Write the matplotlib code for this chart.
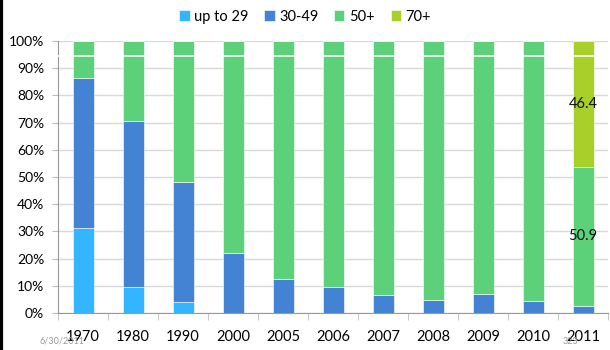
import matplotlib
matplotlib.use("Agg")
import matplotlib.pyplot as plt
import numpy as np

years = ["1970", "1980", "1990", "2000", "2005", "2006", "2007", "2008", "2009", "2010", "2011"]
up_to_29 = [31.2, 9.7, 3.9, 0, 0, 0, 0, 0, 0, 0, 0]
age_30_49 = [55.2, 60.9, 44.4, 21.9, 12.6, 9.5, 6.6, 4.7, 6.9, 4.4, 2.7]
age_50_plus = [13.6, 29.4, 51.7, 78.1, 87.4, 90.5, 93.4, 95.3, 93.1, 95.6, 50.9]
age_70_plus = [0, 0, 0, 0, 0, 0, 0, 0, 0, 0, 46.4]
series_names = ["up to 29", "30-49", "50+", "70+"]
colors = ["#33B6FF", "#4482D4", "#5CD17A", "#A9CF2A"]

plt.rcParams["font.family"] = ["Lato", "DejaVu Sans"]

fig = plt.figure(figsize=(6.1, 3.5), dpi=100)
fig.patch.set_facecolor("white")
ax = fig.add_axes([58 / 610, 1 - 313 / 350, 550 / 610, 272 / 350])

x = np.arange(len(years))
bottom = np.zeros(len(years))
bars = []
for name, vals, c in zip(series_names, [up_to_29, age_30_49, age_50_plus, age_70_plus], colors):
    vals = np.array(vals, dtype=float)
    ax.bar(x, vals, width=0.42, bottom=bottom, color=c, label=name,
           edgecolor="white", linewidth=0.4, zorder=2)
    bars.append((vals, bottom.copy()))
    bottom += vals

# value labels on the 2011 bar
last = len(years) - 1
for vals, bot in bars[2:]:
    v = vals[last]
    ax.text(x[last], bot[last] + v / 2, f"{v:.1f}", ha="center", va="center",
            fontsize=10.5, color="#111111", zorder=4)

# thin white rule across the bars
ax.axhline(94.5, color="white", linewidth=1.2, zorder=3)

ax.set_xlim(-0.5, len(years) - 0.5)
ax.set_ylim(0, 100)
ax.set_yticks(np.arange(0, 101, 10))
ax.set_yticklabels([f"{v}%" for v in range(0, 101, 10)], fontsize=10)
ax.set_xticks(x)
ax.set_xticklabels(years, fontsize=10.5)
ax.set_xticks(np.arange(-0.5, len(years), 1), minor=True)
ax.tick_params(axis="x", which="major", length=0, pad=12)
ax.tick_params(axis="x", which="minor", length=5, color="#BBBBBB")
ax.tick_params(axis="y", length=4, color="#BBBBBB", pad=6)

ax.yaxis.grid(True, color="#D9D9D9", linewidth=1, zorder=0)
ax.set_axisbelow(True)
for s in ["top", "right"]:
    ax.spines[s].set_visible(False)
ax.spines["left"].set_color("#999999")
ax.spines["bottom"].set_color("#999999")

fig.legend(loc="upper center", bbox_to_anchor=(0.5, 1.01), ncol=4, frameon=False,
           fontsize=10.5, handlelength=0.7, handleheight=0.7, handletextpad=0.3,
           columnspacing=1.1)

# slide footer text
fig.text(40 / 610, 1 - 341 / 350, "6/30/2011", fontsize=6.5, color="#999999", va="center")
fig.text(563 / 610, 1 - 341 / 350, "323", fontsize=6.5, color="#999999", va="center")

# left border line
fig.add_artist(plt.Line2D([0.002, 0.002], [0, 1], color="black", linewidth=3,
                          transform=fig.transFigure))

fig.savefig("out.png", dpi=100)
